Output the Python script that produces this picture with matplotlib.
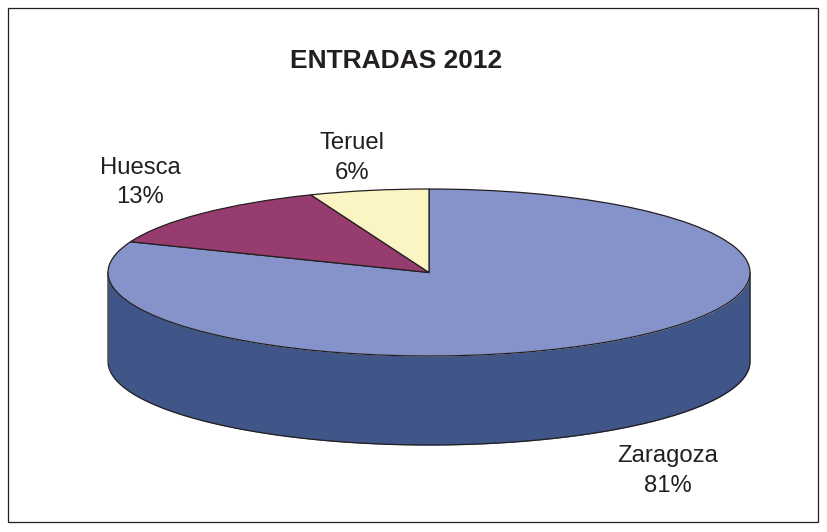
import numpy as np
import matplotlib
matplotlib.use("Agg")
import matplotlib.pyplot as plt
from matplotlib.patches import Rectangle

plt.rcParams['font.family'] = ['Liberation Sans', 'DejaVu Sans']

W, H = 828, 532

# data
labels = ['Zaragoza', 'Huesca', 'Teruel']
values = [81, 13, 6]
colors = ['#8593CA', '#963C6E', '#FBF5C4']
wall_color = '#405588'
title = 'ENTRADAS 2012'
ink = '#231F20'

fig = plt.figure(figsize=(W / 100, H / 100), dpi=100, facecolor='white')

# outer frame
fig.add_artist(Rectangle((8 / W, 1 - 522 / H), 810 / W, 514 / H,
                         transform=fig.transFigure, fill=False,
                         edgecolor=ink, linewidth=0.9))

# axes sits exactly on the top ellipse of the pie
cx, cy, rx, ry = 429, 272.5, 321, 83.5
ax = fig.add_axes([(cx - rx) / W, 1 - (cy + ry) / H, 2 * rx / W, 2 * ry / H])

# side wall of the 3d pie
depth = 89 / ry
t = np.linspace(np.pi, 2 * np.pi, 200)
wx = np.cos(t)
ax.fill_between(wx, np.sin(t), np.sin(t) - depth, color=wall_color,
                linewidth=0, clip_on=False, zorder=1)
# outline goes down the left side, round the bottom, up the right side
ox = np.r_[-1, wx, 1]
oy = np.r_[0, np.sin(t) - depth, 0]
ax.plot(ox, oy, color=ink, lw=0.9, clip_on=False, zorder=2,
        solid_joinstyle='round')

# top face
wedges, _ = ax.pie(values, colors=colors, startangle=90, counterclock=False,
                   radius=1, wedgeprops={'edgecolor': ink, 'linewidth': 0.9,
                                         'clip_on': False, 'zorder': 3})
ax.set_aspect('auto')
ax.set_xlim(-1, 1)
ax.set_ylim(-1, 1)
ax.axis('off')

# text, placed in pixels
fig.text(396.5 / W, 1 - 61 / H, title, ha='center', va='center',
         fontsize=19, fontweight='bold', color=ink)

label_pos = [(668, 471), (140, 182.5), (352, 158)]
for name, val, (px, py) in zip(labels, values, label_pos):
    fig.text(px / W, 1 - py / H, f'{name}\n{val}%', ha='center', va='center',
             fontsize=17.2, color=ink, linespacing=1.45)

fig.savefig('out.png', dpi=100)
